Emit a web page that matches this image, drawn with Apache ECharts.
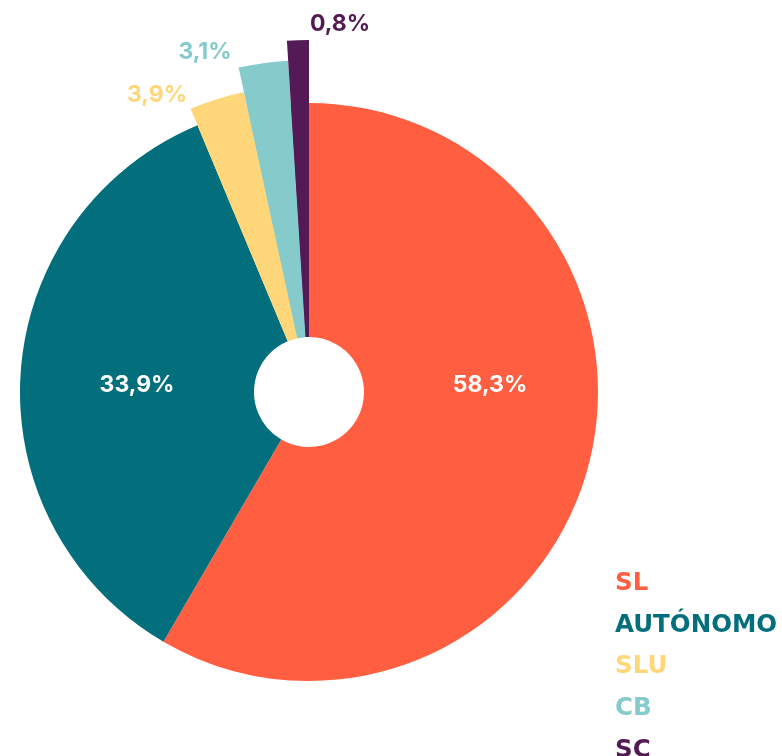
<!DOCTYPE html>
<html lang="es">
<head>
    <meta charset="utf-8"/>
    <title>Forma jurídica</title>
    <script src="https://cdn.jsdelivr.net/npm/echarts@6/dist/echarts.min.js"></script>
    <style>
        html, body { margin: 0; padding: 0; background: #fff; }
        #chart { width: 782px; height: 756px; }
    </style>
</head>
<body>
<div id="chart"></div>
<script type="text/javascript">
    // datos
    var categories = ['SL', 'AUTÓNOMO', 'SLU', 'CB', 'SC'];
    // porcentajes impresos en el gráfico
    var labels = ['58,3%', '33,9%', '3,9%', '3,1%', '0,8%'];
    // peso de cada porción tal como está dibujada
    var values = [58.4, 35.3, 2.9, 2.4, 1.0];
    var colors = ['#FF5F40', '#036F7D', '#FFD77A', '#85CBCB', '#541A55'];
    // radio exterior de cada porción (las pequeñas sobresalen)
    var outerRadius = [289, 289, 307, 332, 352];
    // posiciones de las etiquetas
    var labelPos = [[490, 385], [137, 385], [157, 95], [205, 52], [340, 24]];

    var font = 'Inter, Roboto, sans-serif';
    var dom = document.getElementById('chart');
    var myChart = echarts.init(dom);

    var center = [309, 392];

    // serie principal
    var series = [{
        name: 'main',
        type: 'pie',
        center: center,
        radius: [55, 289],
        startAngle: 90,
        clockwise: true,
        avoidLabelOverlap: false,
        labelLine: { show: false },
        label: {
            show: true,
            position: 'inside',
            fontFamily: font,
            fontWeight: 'bold',
            fontSize: 23,
            formatter: function (p) { return labels[p.dataIndex]; }
        },
        labelLayout: function (p) {
            var pos = labelPos[p.dataIndex];
            return { x: pos[0], y: pos[1], align: 'center', verticalAlign: 'middle' };
        },
        data: categories.map(function (c, i) {
            return {
                name: c,
                value: values[i],
                itemStyle: { color: colors[i] },
                label: { color: i < 2 ? '#ffffff' : colors[i] }
            };
        })
    }];

    // porciones que sobresalen: misma geometría, radio mayor
    [2, 3, 4].forEach(function (k) {
        series.push({
            name: 'ext' + k,
            type: 'pie',
            center: center,
            radius: [55, outerRadius[k]],
            startAngle: 90,
            clockwise: true,
            silent: true,
            label: { show: false },
            labelLine: { show: false },
            data: categories.map(function (c, i) {
                return {
                    name: c,
                    value: values[i],
                    itemStyle: { color: i === k ? colors[i] : 'rgba(0,0,0,0)' }
                };
            })
        });
    });

    var option = {
        animation: false,
        legend: {
            orient: 'vertical',
            left: 610,
            top: 571,
            height: 220,
            padding: 0,
            icon: 'none',
            itemWidth: 0,
            itemHeight: 10,
            itemGap: 16.8,
            selectedMode: false,
            textStyle: {
                fontFamily: '"DejaVu Sans", sans-serif',
                fontWeight: 'bold',
                fontSize: 24.5
            },
            data: categories.map(function (c, i) {
                return { name: c, textStyle: { color: colors[i] } };
            })
        },
        series: series
    };

    myChart.setOption(option, true);
</script>
</body>
</html>
